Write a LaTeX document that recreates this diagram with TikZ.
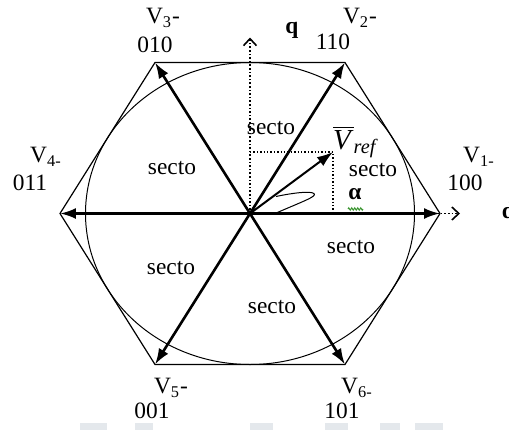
\documentclass[tikz,border=0pt]{standalone}
\usepackage{fontspec}
\setmainfont{Liberation Serif}
\usepackage{tikz}
\usetikzlibrary{arrows.meta,decorations.pathmorphing}
\definecolor{squig}{RGB}{60,150,50}
\definecolor{scrap}{RGB}{228,232,236}
\tikzset{
  vec/.style={-{Latex[length=8pt,width=5.5pt]},line width=1.3pt},
  hexline/.style={black,line width=0.6pt},
  axisline/.style={densely dotted,line width=0.8pt,-{Straight Barb[length=3.5pt,width=6.5pt,line width=0.8pt]}},
  guide/.style={densely dotted,line width=0.7pt},
  lab/.style={font=\fontsize{11.7}{14}\selectfont,inner sep=0pt},
  sect/.style={lab},
  axlab/.style={lab,font=\fontsize{11.7}{14}\selectfont\bfseries},
}

\begin{document}
\begin{tikzpicture}[x=0.5pt,y=0.5pt]
  \useasboundingbox (-250,-216.5) rectangle (259,213.5);

  % centre and hexagon corners
  \coordinate (O) at (0,0);
  \coordinate (v1) at (190,0);
  \coordinate (v2) at (95,151);
  \coordinate (v3) at (-95,151);
  \coordinate (v4) at (-190,0);
  \coordinate (v5) at (-95,-151);
  \coordinate (v6) at (95,-151);
  \coordinate (qtip) at (0,176);
  \coordinate (dtip) at (210,0);
  \coordinate (vr) at (83,61.5);

  \draw[hexline] (v1) -- (v2) -- (v3) -- (v4) -- (v5) -- (v6) -- cycle;
  \draw[line width=0.5pt] (O) ellipse [x radius=164.5, y radius=151];

  % d-q axes
  \draw[axisline] (O) -- (qtip);
  \draw[axisline] (O) -- (dtip);
  \node[axlab] (qlab) at (42,183.5) {q};
  \node[axlab] (dlab) at (258.5,3) {d};

  % switching vectors
  \foreach \v in {v1,v2,v3,v4,v5,v6}{
    \draw[vec] (O) -- (\v);
  }

  % reference vector and projections
  \draw[guide] (O |- vr) -- (vr) -- (vr |- O);
  \draw[-{Latex[length=8pt,width=5.5pt]},line width=1pt] (O) -- (vr);
  \node[lab] (vref) at (106,71.5)
    {\fontsize{14.5}{16}\selectfont$\overline{\mbox{\textit{V}}}$\textsubscript{\textit{ref}}};
  \draw[line width=0.5pt] (26,17) .. controls (40,20) and (60,23) .. (64,20)
    .. controls (67,17) and (55,13) .. (25,0);
  \node[axlab] (alpha) at (105,19) {α};
  \draw[squig,line width=0.5pt,decorate,decoration={zigzag,segment length=1.5pt,amplitude=0.6pt}]
    (98,4.5) -- (113,4.5);

  % vector names and states
  \node[lab] (v1name) at (229,56.5) {V\textsubscript{1-}};
  \node[lab] (v1code) at (215,30.5) {100};
  \node[lab] (v2name) at (110,195.5) {V\textsubscript{2}-};
  \node[lab] (v2code) at (83,171.5) {110};
  \node[lab] (v3name) at (-87,195.5) {V\textsubscript{3}-};
  \node[lab] (v3code) at (-95,168.5) {010};
  \node[lab] (v4name) at (-204,56.5) {V\textsubscript{4-}};
  \node[lab] (v4code) at (-220,30.5) {011};
  \node[lab] (v5name) at (-79,-174.5) {V\textsubscript{5}-};
  \node[lab] (v5code) at (-98,-197.5) {001};
  \node[lab] (v6name) at (107,-174.5) {V\textsubscript{6-}};
  \node[lab] (v6code) at (92,-197.5) {101};

  % sector labels
  \node[sect] (s1) at (123,43.5) {secto};
  \node[sect] (s2) at (21,85.5) {secto};
  \node[sect] (s3) at (-78,45.5) {secto};
  \node[sect] (s4) at (-79,-54.5) {secto};
  \node[sect] (s5) at (22,-93.5) {secto};
  \node[sect] (s6) at (101,-33.5) {secto};

  % faint remains of the cut caption
  \foreach \a/\b in {-170/-143,-115/-97,0/23,75/98,130/150,165/193}{
    \fill[scrap] (\a,-216.5) rectangle (\b,-209.5);
  }
\end{tikzpicture}
\end{document}
